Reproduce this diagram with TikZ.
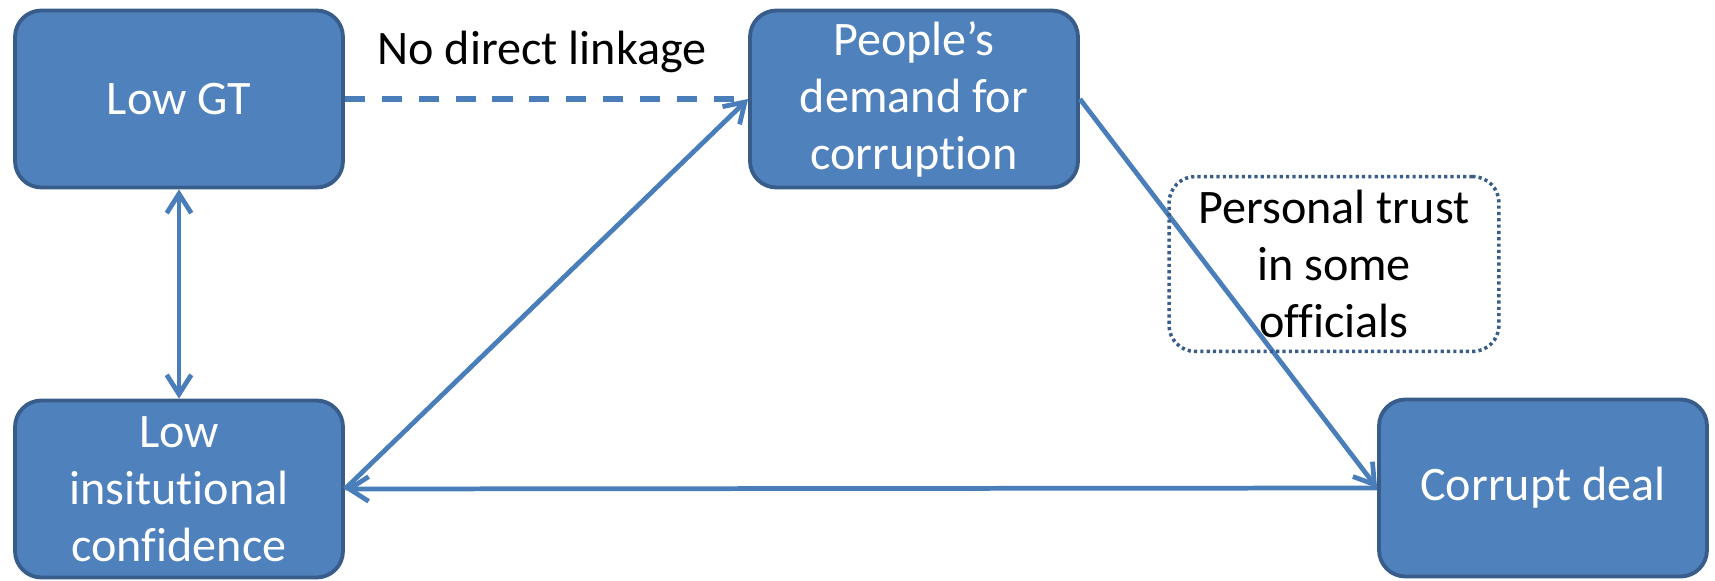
\documentclass[tikz,border=0pt]{standalone}
\usepackage{fontspec}
\setmainfont{Carlito}[Ligatures=NoCommon]
\usepackage{tikz}
\usetikzlibrary{arrows.meta}
\definecolor{boxfill}{HTML}{4F81BD}
\definecolor{boxedge}{HTML}{385D8A}
\definecolor{linkc}{HTML}{4A7EBB}
\definecolor{ink}{HTML}{000000}
\tikzset{
  big/.style={font=\fontsize{27.4}{32.4}\selectfont},
  box/.style={big, draw=boxedge, fill=boxfill, line width=2.2pt, rounded corners=15pt,
    minimum width=6.56cm, minimum height=3.54cm, inner sep=0pt, text=white, align=center},
  note/.style={big, draw=boxedge, line width=2pt, dash pattern=on 1.8pt off 1.8pt,
    rounded corners=15pt, minimum width=6.6cm, minimum height=3.5cm, inner sep=0pt,
    text=ink, align=center},
  link/.style={draw=linkc, line width=2.7pt},
  nolink/.style={draw=linkc, line width=2.9pt, dash pattern=on 11.4pt off 9.6pt},
  lab/.style={big, text=ink},
}
\begin{document}
\begin{tikzpicture}[x=0.02cm,y=-0.02cm,>={Straight Barb[length=11pt,width=14pt]}]
  \useasboundingbox (0,0) rectangle (1715,581);
  \node[box] (lowgt) at (179,99) {Low GT};
  \node[box] (lowic) at (179,489) {Low\\insitutional\\confidence};
  \node[box] (demand) at (914,99) {People’s\\demand for\\corruption};
  \node[box] (deal) at (1543,488) {Corrupt deal};
  \draw[nolink] (lowgt.east) -- (demand.west);
  \node[lab, anchor=base] (linklab) at (542,65) {No direct linkage};
  \draw[link,<->] (lowgt.south) -- (lowic.north);
  \draw[link,->] (lowic.east) -- (demand.west);
  \draw[link,->] (demand.east) -- (deal.west);
  \draw[link,->] (deal.west) -- (lowic.east);
  \node[note] (trust) at (1334,264) {Personal trust\\in some\\officials};
\end{tikzpicture}
\end{document}
